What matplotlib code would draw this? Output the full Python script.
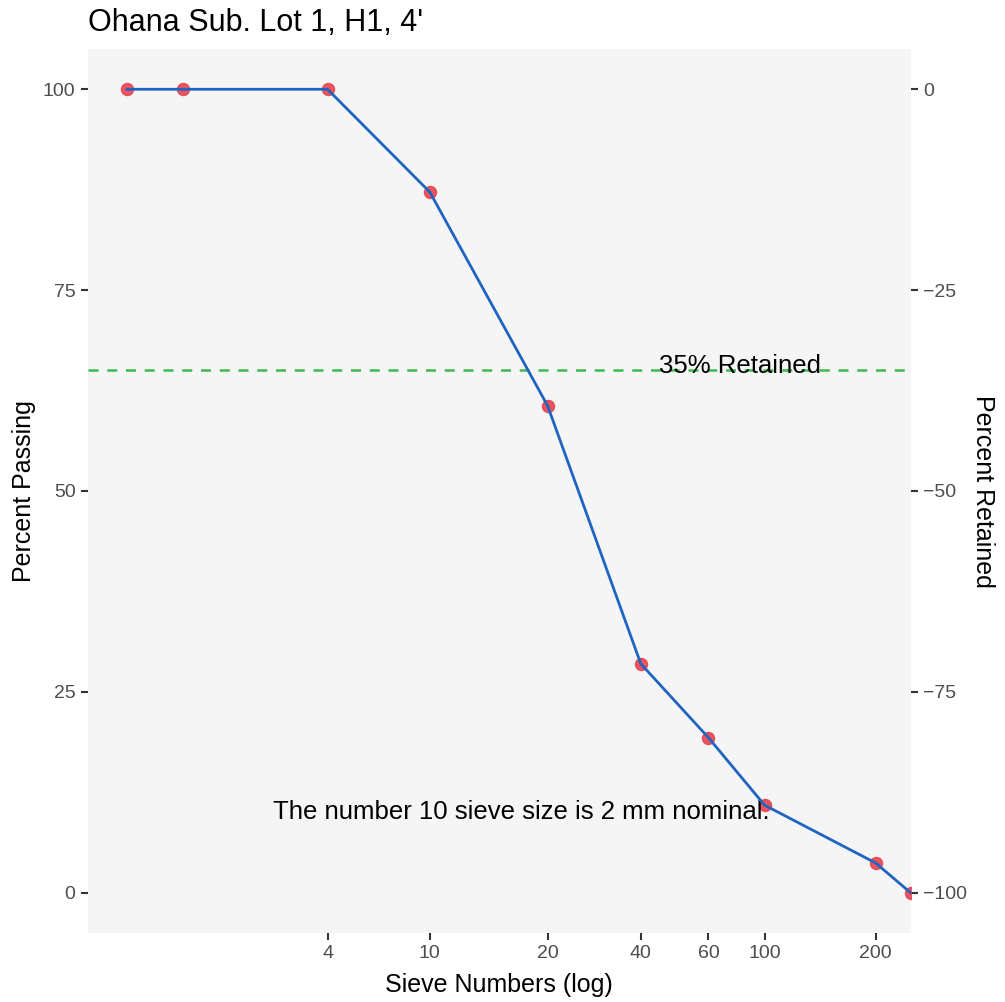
import matplotlib.pyplot as plt

plt.rcParams['font.family'] = ['Liberation Sans', 'DejaVu Sans']

# sieve opening (mm), with percent passing
size_mm = [18.6, 12.3, 4.25, 2.0, 0.84, 0.423, 0.257, 0.17, 0.075, 0.058]
passing = [100, 100, 100, 87.2, 60.6, 28.5, 19.3, 10.9, 3.7, 0]

tick_sizes = [4.25, 2.0, 0.84, 0.423, 0.257, 0.17, 0.075]
tick_labels = ["4", "10", "20", "40", "60", "100", "200"]

retained_line = 65
note_x, note_y = 1.02, 10.0
ret_x = 0.204

fig = plt.figure(figsize=(10.05, 10.02), dpi=100)
ax = fig.add_axes([0.0876, 0.069, 0.8184, 0.882])
ax.set_facecolor("#f5f5f5")
for s in ax.spines.values():
    s.set_visible(False)

ax.set_xscale("log")
ax.set_xlim(24.8, 0.058)
ax.set_ylim(-5, 105)

ax.scatter(size_mm, passing, s=75, color="#e8434e", alpha=0.9, zorder=3, clip_on=True)
ax.plot(size_mm, passing, color="#1f64c0", lw=2, zorder=4)
ax.axhline(retained_line, color="#3dba4f", lw=1.8, ls=(0, (4, 3.5)), zorder=2)

ax.text(ret_x, retained_line - 0.3, "35% Retained", fontsize=18.5, ha="center", va="baseline")
ax.text(note_x, note_y, "The number 10 sieve size is 2 mm nominal.", fontsize=18.5,
        ha="center", va="center")

ax.set_xticks(tick_sizes)
ax.set_xticklabels(tick_labels)
ax.xaxis.set_minor_locator(plt.NullLocator())
ax.set_yticks([0, 25, 50, 75, 100])
ax.tick_params(length=5, width=1.5, color="#333333", labelsize=14, labelcolor="#4d4d4d", pad=4)

sec = ax.secondary_yaxis("right", functions=(lambda y: y - 100, lambda r: r + 100))
sec.set_yticks([0, -25, -50, -75, -100])
sec.tick_params(length=5, width=1.5, color="#333333", labelsize=14, labelcolor="#4d4d4d", pad=4)
for s in sec.spines.values():
    s.set_visible(False)
sec.set_ylabel("Percent Retained", fontsize=18, rotation=270, labelpad=20)

ax.set_xlabel("Sieve Numbers (log)", fontsize=18, labelpad=8)
ax.set_ylabel("Percent Passing", fontsize=18, labelpad=5)
ax.set_title("Ohana Sub. Lot 1, H1, 4'", fontsize=22, loc="left", pad=13, x=0.0)

fig.savefig("out.png", dpi=100)
